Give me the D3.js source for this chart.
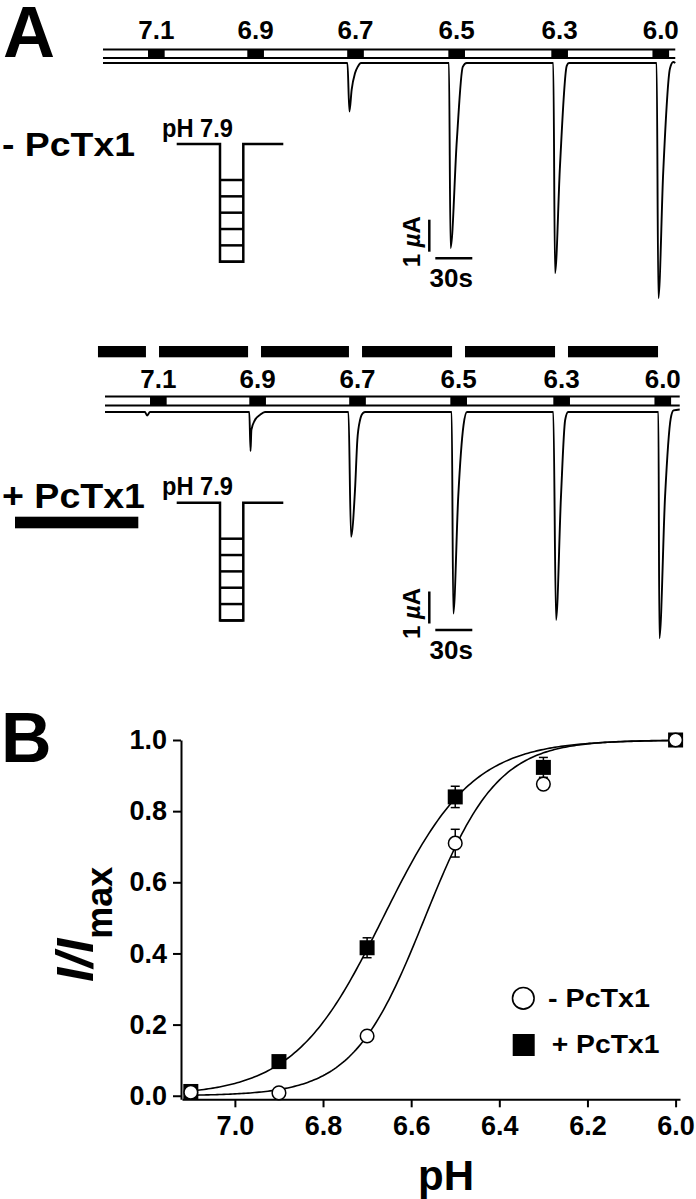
<!DOCTYPE html>
<html><head><meta charset="utf-8">
<script src="https://cdn.jsdelivr.net/npm/d3@7"></script>
<style>
body{margin:0;background:#fff}
svg{display:block}
text{font-family:"Liberation Sans",Arial,Helvetica,sans-serif;font-weight:bold;fill:#000}
</style>
</head><body>
<svg id="c" width="696" height="1199"></svg>
<script>
// ================= DATA =================
// Panel A: test pH values applied in sequence (conditioning pH 7.9)
const testPH = ["7.1", "6.9", "6.7", "6.5", "6.3", "6.0"];
// start time (s) of each acid pulse, and pulse duration (s)
const pulseStart = [36.5, 117, 198, 280, 363.5, 445.5];
const pulseDur = 13.5;
const recordEnd = [464, 466];                      // s, top / bottom recordings
// PcTx1 application periods (s) in the lower recording
const toxinBars = [[-5.7, 33.2], [43.8, 116], [126.5, 197.8], [208.4, 281.4], [291.9, 364.9], [375.4, 448.4]];
// current traces: [time (s), current (µA)] read from the recordings
const traceControl = [
  [0, 0], [198.2, 0], [199.8, -1.52], [201.6, -0.84], [204.3, -0.32], [206.5, -0.12], [209.2, 0],
  [280.5, 0], [281.8, -5.78], [286.9, -2.41], [291.7, -0.12], [294.9, 0],
  [365.1, 0], [366.5, -6.57], [370.5, -3.24], [376, -0.09], [377.8, 0],
  [448.9, 0], [450.3, -7.35], [454.2, -3.44], [459.7, -0.17], [462.4, 0.03], [464, 0]
];
const traceToxin = [
  [0, 0], [32.4, 0], [34.1, -0.11], [36.5, 0],
  [117, 0], [118, -1.22], [118.7, -0.56], [121.6, -0.25], [125.7, -0.09], [129.7, 0],
  [197.4, 0], [199.5, -3.9], [202.7, -2.44], [204.6, -0.875], [206.8, -0.25], [209.2, -0.03], [211, 0],
  [281.1, 0], [282.4, -6.3], [286.4, -2.65], [290.7, -0.41], [293.5, 0],
  [363.5, 0], [365.7, -6.5], [369.7, -2.65], [373.1, -0.25], [375.5, 0],
  [448.7, 0], [449.5, -7.07], [454.1, -2.65], [458.7, -0.2], [461, 0.05], [466, 0.08]
];
const scaleBarI = 1;   // µA
const scaleBarT = 30;  // s

// Panel B: normalized currents
const phValues = [7.1, 6.9, 6.7, 6.5, 6.3, 6.0];
const ctrlMean = [0.010, 0.008, 0.168, 0.710, 0.876, 1.000];
const ctrlSem  = [0, 0, 0, 0.039, 0, 0];
const toxMean  = [0.012, 0.096, 0.416, 0.840, 0.923, 1.000];
const toxSem   = [0, 0, 0.028, 0.030, 0.028, 0];
const fitCtrl = {pH50: 6.569, nH: 5.3};
const fitTox  = {pH50: 6.664, nH: 4.3};
const xTicks = [7.0, 6.8, 6.6, 6.4, 6.2, 6.0];
const yTicks = [0.0, 0.2, 0.4, 0.6, 0.8, 1.0];

// ================= DRAW =================
const svg = d3.select("#c");

// ---------- Panel A ----------
svg.append("text").attr("x", 3).attr("y", 57).style("font-size", "72px").text("A");

function drawRecording(opt) {
  const g = svg.append("g");
  const xs = d3.scaleLinear().domain([0, 30]).range([opt.x0, opt.x0 + 37]);
  const ys = d3.scaleLinear().domain([0, -1]).range([opt.yBase, opt.yBase + 32]);
  const tEnd = opt.tEnd;
  // solution bar
  [opt.barTop, opt.barBot].forEach(yy => {
    g.append("line").attr("x1", xs(0)).attr("x2", xs(tEnd)).attr("y1", yy).attr("y2", yy)
      .attr("stroke", "#000").attr("stroke-width", 2.2);
  });
  g.selectAll("rect.pulse").data(pulseStart).join("rect").attr("class", "pulse")
    .attr("x", d => xs(d)).attr("width", xs(pulseDur) - xs(0))
    .attr("y", opt.barTop).attr("height", opt.barBot - opt.barTop).attr("fill", "#000");
  g.selectAll("text.ph").data(testPH).join("text").attr("class", "ph")
    .attr("x", (d, i) => xs(pulseStart[i] + pulseDur / 2)).attr("y", opt.labelY)
    .attr("text-anchor", "middle").style("font-size", "26px").text(d => d);
  // trace
  const line = d3.line().x(d => xs(d[0])).y(d => ys(d[1])).curve(d3.curveMonotoneX);
  g.append("path").datum(opt.trace).attr("d", line).attr("fill", "none")
    .attr("stroke", "#000").attr("stroke-width", 1.9).attr("stroke-linejoin", "round");
  // scale bars
  const sbx = opt.sbX, sby = opt.sbY;
  g.append("line").attr("x1", sbx).attr("x2", sbx).attr("y1", sby - (ys(-scaleBarI) - ys(0))).attr("y2", sby)
    .attr("stroke", "#000").attr("stroke-width", 2.5);
  g.append("line").attr("x1", sbx + 6).attr("x2", sbx + 6 + (xs(scaleBarT) - xs(0)))
    .attr("y1", sby + 6.5).attr("y2", sby + 6.5).attr("stroke", "#000").attr("stroke-width", 2.5);
  const t1 = g.append("text").attr("transform", `translate(${sbx - 9},${sby - 10}) rotate(-90)`)
    .attr("text-anchor", "middle").style("font-size", "24px");
  t1.append("tspan").text(scaleBarI + " ");
  t1.append("tspan").style("font-style", "italic").text("µ");
  t1.append("tspan").text("A");
  g.append("text").attr("x", sbx + 22).attr("y", sby + 35).attr("text-anchor", "middle")
    .style("font-size", "26px").text(scaleBarT + "s");
  // ladder pictogram
  const ladTop = opt.ladTop;
  const rung = d3.scalePoint().domain(testPH).range([ladTop + 36, ladTop + 117.7]);
  const lx1 = 220, lx2 = 243.3;
  g.append("path").attr("d",
    `M176.7,${ladTop}H${lx1}V${rung("6.0")}H${lx2}V${ladTop}H283.3`)
    .attr("fill", "none").attr("stroke", "#000").attr("stroke-width", 2.5);
  g.selectAll("line.rung").data(testPH).join("line").attr("class", "rung")
    .attr("x1", lx1).attr("x2", lx2).attr("y1", d => rung(d)).attr("y2", d => rung(d))
    .attr("stroke", "#000").attr("stroke-width", 2.5);
  g.append("text").attr("x", 162).attr("y", ladTop - 7.3).style("font-size", "26px")
    .attr("textLength", 71).attr("lengthAdjust", "spacingAndGlyphs").text("pH 7.9");
  return xs;
}

drawRecording({x0: 103, yBase: 63, barTop: 49.5, barBot: 58, labelY: 39.3, tEnd: recordEnd[0],
  trace: traceControl, sbX: 429.3, sbY: 251.7, ladTop: 144});
const xsB = drawRecording({x0: 105, yBase: 412, barTop: 396.5, barBot: 405.5, labelY: 388.3, tEnd: recordEnd[1],
  trace: traceToxin, sbX: 429.3, sbY: 623.5, ladTop: 502.7});

// toxin application bars
svg.selectAll("rect.tox").data(toxinBars).join("rect").attr("class", "tox")
  .attr("x", d => xsB(d[0])).attr("width", d => xsB(d[1]) - xsB(d[0]))
  .attr("y", 346).attr("height", 11.3).attr("fill", "#000");

svg.append("text").attr("x", 2).attr("y", 156).style("font-size", "33px")
  .attr("textLength", 133).attr("lengthAdjust", "spacingAndGlyphs").text("- PcTx1");
svg.append("text").attr("x", 2).attr("y", 508.3).style("font-size", "35px")
  .attr("textLength", 143).attr("lengthAdjust", "spacingAndGlyphs").text("+ PcTx1");
svg.append("rect").attr("x", 15).attr("y", 516.7).attr("width", 123.3).attr("height", 11.6).attr("fill", "#000");

// ---------- Panel B ----------
svg.append("text").attr("x", 1).attr("y", 762).style("font-size", "70px").text("B");

const x = d3.scaleLinear().domain([7.12, 5.99]).range([182, 680]);
const y = d3.scaleLinear().domain([-0.01, 1.0]).range([1099.3, 740]);

const gx = svg.append("g").attr("transform", "translate(0,1099.3)")
  .call(d3.axisBottom(x).tickValues(xTicks).tickSize(8).tickSizeOuter(0).tickPadding(9).tickFormat(d3.format(".1f")));
const gy = svg.append("g").attr("transform", "translate(181,0)")
  .call(d3.axisLeft(y).tickValues(yTicks).tickSize(8).tickSizeOuter(0).tickPadding(6).tickFormat(d3.format(".1f")));
[gx, gy].forEach(g => {
  g.selectAll("path,line").attr("stroke", "#000").attr("stroke-width", 2);
  g.selectAll("text").style("font-size", "27px").style("font-family", "'Liberation Sans',Arial,sans-serif")
    .style("font-weight", "bold").attr("fill", "#000");
});

// Hill fits
const hill = p => v => 1 / (1 + Math.pow(10, p.nH * (v - p.pH50)));
const fitX = d3.range(7.1, 5.9995, -0.005);
const fitLine = f => d3.line().x(d => x(d)).y(d => y(f(d)));
[fitTox, fitCtrl].forEach(p => {
  svg.append("path").datum(fitX).attr("d", fitLine(hill(p))).attr("fill", "none")
    .attr("stroke", "#000").attr("stroke-width", 1.6);
});

// error bars
function errBars(mean, sem) {
  phValues.forEach((v, i) => {
    if (!sem[i]) return;
    const cx = x(v), y1 = y(mean[i] - sem[i]), y2 = y(mean[i] + sem[i]);
    svg.append("line").attr("x1", cx).attr("x2", cx).attr("y1", y1).attr("y2", y2).attr("stroke", "#000").attr("stroke-width", 1.5);
    [y1, y2].forEach(yy => svg.append("line").attr("x1", cx - 4.5).attr("x2", cx + 4.5).attr("y1", yy).attr("y2", yy)
      .attr("stroke", "#000").attr("stroke-width", 1.5));
  });
}
errBars(toxMean, toxSem);
errBars(ctrlMean, ctrlSem);

svg.selectAll("rect.sq").data(phValues).join("rect").attr("class", "sq")
  .attr("x", d => x(d) - 7.5).attr("y", (d, i) => y(toxMean[i]) - 7.5)
  .attr("width", 15).attr("height", 15).attr("fill", "#000");
svg.selectAll("circle.ci").data(phValues).join("circle").attr("class", "ci")
  .attr("cx", d => x(d)).attr("cy", (d, i) => y(ctrlMean[i])).attr("r", 6.8)
  .attr("fill", "#fff").attr("stroke", "#000").attr("stroke-width", 1.5);

// legend
svg.append("circle").attr("cx", 523.3).attr("cy", 998.3).attr("r", 10.8)
  .attr("fill", "#fff").attr("stroke", "#000").attr("stroke-width", 1.6);
svg.append("rect").attr("x", 512.7).attr("y", 1034).attr("width", 22).attr("height", 22).attr("fill", "#000");
svg.append("text").attr("x", 548).attr("y", 1006.7).style("font-size", "26px")
  .attr("textLength", 102).attr("lengthAdjust", "spacingAndGlyphs").text("- PcTx1");
svg.append("text").attr("x", 551.7).attr("y", 1052.7).style("font-size", "26px")
  .attr("textLength", 107.7).attr("lengthAdjust", "spacingAndGlyphs").text("+ PcTx1");

// axis titles
svg.append("text").attr("x", 446).attr("y", 1190).attr("text-anchor", "middle").style("font-size", "42px").text("pH");
const yl = svg.append("text").attr("transform", "translate(93,982) rotate(-90)");
yl.append("tspan").style("font-size", "52px").style("font-style", "italic").text("I/I");
yl.append("tspan").attr("dy", 19).style("font-size", "36px").text("max");
</script>
</body></html>
